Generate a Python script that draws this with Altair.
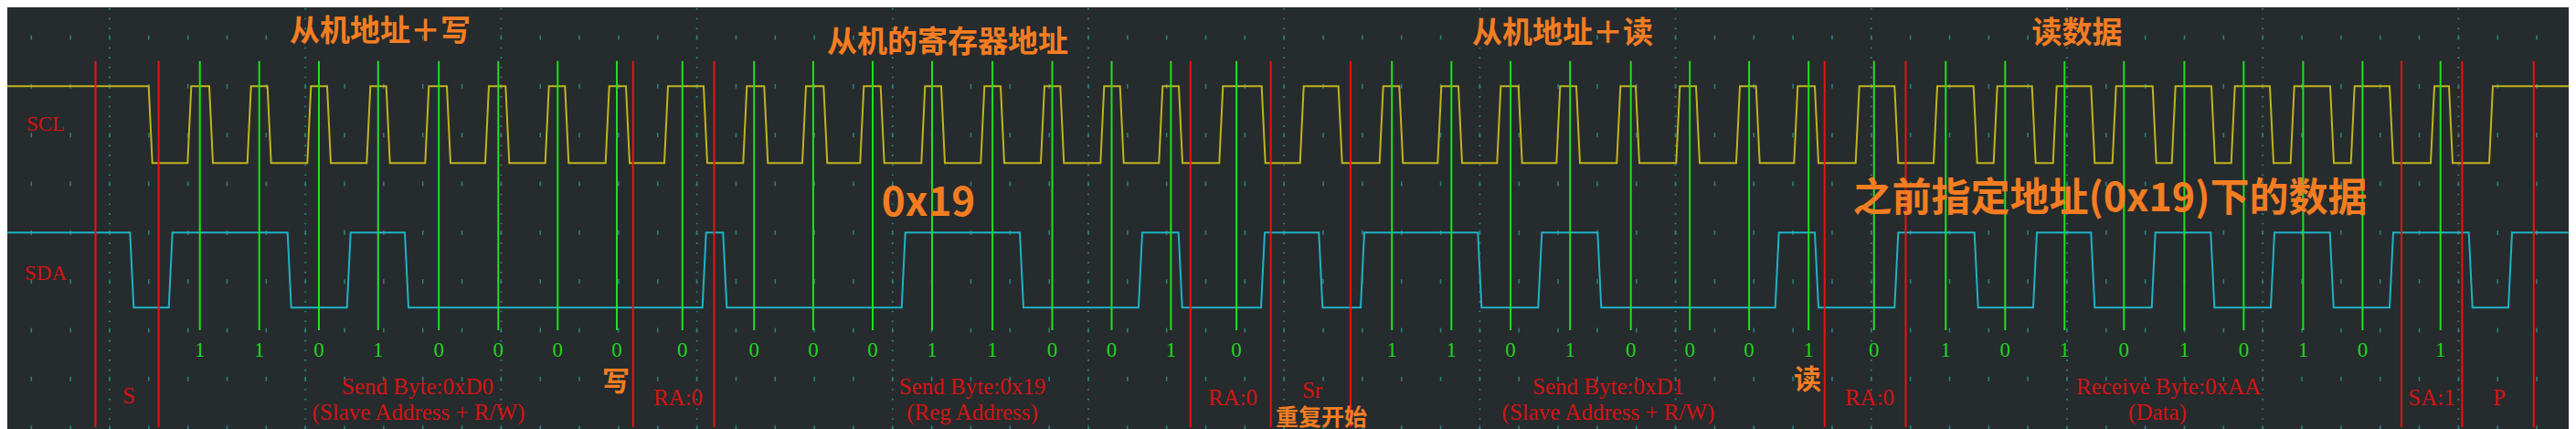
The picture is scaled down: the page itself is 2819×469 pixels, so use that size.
import altair as alt
import numpy as np
import pandas as pd

# ---------------- data read from the capture ----------------
# time axis is in capture sample units (one unit = one screen column)
# SCL starts high; each entry is a transition time
scl_edges = [164.7, 207.3, 231.0, 272.7, 294.7, 338.3, 360.0, 403.3, 424.7, 467.3,
             491.0, 533.0, 555.3, 598.7, 620.3, 664.7, 687.0, 729.0, 772.0, 815.3,
             838.3, 880.0, 903.3, 943.3, 965.7, 1010.3, 1032.0, 1075.3, 1097.0, 1141.0,
             1162.3, 1206.3, 1227.7, 1270.3, 1292.0, 1336.3, 1382.7, 1424.7, 1466.7, 1511.7,
             1533.3, 1575.3, 1598.0, 1640.3, 1663.7, 1705.3, 1727.0, 1771.3, 1792.0, 1836.3,
             1858.0, 1902.0, 1923.7, 1965.3, 1988.0, 2032.7, 2075.3, 2118.0, 2161.7, 2183.7,
             2225.7, 2248.7, 2290.3, 2313.7, 2357.7, 2378.7, 2422.0, 2443.7, 2486.0, 2508.7,
             2552.0, 2574.7, 2617.0, 2662.0, 2682.0, 2726.0]
# SDA starts high
sda_edges = [144.3, 186.7, 316.7, 381.7, 445.0, 770.7, 793.3, 988.7, 1118.0, 1248.0,
             1291.7, 1382.0, 1445.3, 1491.0, 1619.3, 1685.3, 1750.3, 1944.7, 1988.0, 2075.3,
             2162.7, 2227.0, 2290.3, 2356.7, 2421.3, 2487.0, 2551.7, 2617.0, 2703.7, 2747.0]

# sampling points (green markers) and decoded bits
bit_times = [218.7, 283.7, 349.0, 413.8, 480.2, 545.3, 610.3, 675.0, 746.8,
             825.2, 889.9, 955.0, 1020.0, 1086.1, 1151.5, 1216.5, 1281.4, 1353.1,
             1523.2, 1588.3, 1653.1, 1718.2, 1784.7, 1849.2, 1914.1, 1979.2, 2050.8,
             2129.3, 2194.3, 2259.3, 2324.3, 2390.4, 2455.4, 2520.4, 2585.4, 2670.7]
bit_values = ["1", "1", "0", "1", "0", "0", "0", "0", "0",
              "0", "0", "0", "1", "1", "0", "0", "1", "0",
              "1", "1", "0", "1", "0", "0", "0", "1", "0",
              "1", "0", "1", "0", "1", "0", "1", "0", "1"]

# frame boundary markers (red)
marker_times = [104.5, 173.6, 692.8, 781.5, 1302.8, 1390.6, 1477.9,
                1996.7, 2085.5, 2628.0, 2694.4, 2772.8]

# decoder field labels
field_labels = ["S", "Send Byte:0xD0", "(Slave Address + R/W)", "RA:0",
                "Send Byte:0x19", "(Reg Address)", "RA:0", "Sr",
                "Send Byte:0xD1", "(Slave Address + R/W)", "RA:0",
                "Receive Byte:0xAA", "(Data)", "SA:1", "P"]
field_times = [141, 457, 458, 742, 1064, 1064, 1349, 1436,
               1760, 1760, 2046, 2373, 2361, 2661, 2735]
field_rows = [433, 423, 451, 435, 423, 451, 435, 427,
              423, 451, 435, 423, 451, 435, 435]

channel_names = ["SCL", "SDA"]
channel_rows = [136, 299]

# annotations
note_texts = ["从机地址＋写", "从机的寄存器地址", "从机地址＋读", "读数据", "0x19",
              "之前指定地址(0x19)下的数据", "写", "读", "重复开始"]
note_times = [416, 1037, 1710, 2273, 1016, 2309, 674, 1978, 1446]
note_rows = [35, 47, 37, 37, 223, 218, 418, 416, 457]
note_sizes = [33, 33, 33, 33, 44, 43, 30, 30, 25]

# trace levels on screen
SCL_HI, SCL_LO = 94.3, 178.3
SDA_HI, SDA_LO = 254.3, 336.3

# ---------------- build tables ----------------
def wave(edges, hi, lo, ramp=2.0, t0=0.0, t1=2830.0):
    pts = [(t0, hi)]
    level = hi
    for e in edges:
        new = lo if level == hi else hi
        pts.append((e - ramp, level))
        pts.append((e + ramp, new))
        level = new
    pts.append((t1, level))
    df = pd.DataFrame(pts, columns=["t", "y"])
    df["o"] = np.arange(len(df))
    return df

scl_df = wave(scl_edges, SCL_HI, SCL_LO)
sda_df = wave(sda_edges, SDA_HI, SDA_LO)
bits_df = pd.DataFrame({"t": bit_times, "bit": bit_values})
mark_df = pd.DataFrame({"t": marker_times})
field_df = pd.DataFrame({"t": field_times, "y": field_rows, "label": field_labels})
chan_df = pd.DataFrame({"t": [50, 50], "y": channel_rows, "label": channel_names})
note_df = pd.DataFrame({"t": note_times, "y": note_rows, "label": note_texts, "fs": note_sizes})

# screen graticule (decoration)
div_x = 120 + 214.2 * np.arange(0, 13)
minor_x = 120 + 42.84 * np.arange(-2, 63)
row_y = 41 + 53.333 * np.arange(0, 9)
gx, gy = np.meshgrid(minor_x, row_y)
tick_df = pd.DataFrame({"t": gx.ravel(), "y": gy.ravel() - 2.5, "y2": gy.ravel() + 2.5})
div_df = pd.DataFrame({"t": div_x})

# ---------------- chart ----------------
W, H = 2803, 453
xs = alt.Scale(domain=[8, 8 + W], nice=False, zero=False)
ys = alt.Scale(domain=[8, 8 + H], nice=False, zero=False, reverse=True)
X = lambda f="t": alt.X(f"{f}:Q", scale=xs, axis=None)
Y = lambda f="y": alt.Y(f"{f}:Q", scale=ys, axis=None)

GRID = "#2b7f7b"

ticks = alt.Chart(tick_df).mark_rule(color=GRID, strokeWidth=1.6).encode(
    x=X(), y=Y("y"), y2="y2:Q")

dots = alt.Chart(div_df).mark_rule(color=GRID, strokeWidth=2, strokeDash=[1.6, 9.07]).encode(
    x=X(), y=alt.YDatum(9.0, scale=ys, axis=None), y2=alt.Y2Datum(469.0))

scl = alt.Chart(scl_df).mark_line(color="#c0b41c", strokeWidth=2, clip=True).encode(
    x=X(), y=Y(), order="o:Q")
sda = alt.Chart(sda_df).mark_line(color="#1fb2c6", strokeWidth=2, clip=True).encode(
    x=X(), y=Y(), order="o:Q")

green = alt.Chart(bits_df).mark_rule(color="#1fe01f", strokeWidth=2).encode(
    x=X(), y=alt.YDatum(66.7, scale=ys, axis=None), y2=alt.Y2Datum(361.0))
red = alt.Chart(mark_df).mark_rule(color="#f01010", strokeWidth=2).encode(
    x=X(), y=alt.YDatum(66.7, scale=ys, axis=None), y2=alt.Y2Datum(467.0))

bit_text = alt.Chart(bits_df).mark_text(
    color="#1ed41e", font="Liberation Serif", fontSize=23, align="center", baseline="middle"
).encode(x=X(), y=alt.YDatum(383.0, scale=ys, axis=None), text="bit:N")

field_text = alt.Chart(field_df).mark_text(
    color="#d41414", font="Liberation Serif", fontSize=25, align="center", baseline="middle"
).encode(x=X(), y=Y(), text="label:N")

chan_text = alt.Chart(chan_df).mark_text(
    color="#d41414", font="Liberation Serif", fontSize=23, align="center", baseline="middle"
).encode(x=X(), y=Y(), text="label:N")

notes = alt.Chart(note_df).mark_text(
    color="#f47d22", font="Noto Sans CJK SC", fontWeight="bold", align="center", baseline="middle"
).encode(x=X(), y=Y(), text="label:N", size=alt.Size("fs:Q", scale=None, legend=None))

chart = alt.layer(
    ticks, dots, scl, sda, green, red, bit_text, field_text, chan_text, notes
).properties(
    width=W, height=H, padding=0, background="#262b2d"
).configure_view(stroke=None, fill="#262b2d")

chart.save("out.html", embed_options={"renderer": "svg", "actions": False})
